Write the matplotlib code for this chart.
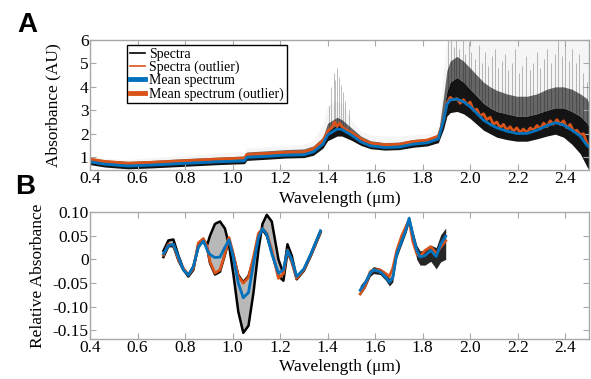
import numpy as np
import matplotlib
matplotlib.use("Agg")
import matplotlib.pyplot as plt
from matplotlib.lines import Line2D

BLUE = "#0072BD"
ORANGE = "#D95319"
FRAME = "#a8a8a8"

# ---- panel A: absorbance spectra ----
wl_a = [0.40, 0.46, 0.56, 0.66, 0.80, 0.94, 1.05, 1.06, 1.16, 1.22,
        1.30, 1.34, 1.38, 1.40, 1.44, 1.46, 1.50, 1.54, 1.58, 1.64,
        1.70, 1.76, 1.82, 1.866, 1.888, 1.902, 1.916, 1.944, 1.972, 2.0,
        2.028, 2.056, 2.084, 2.112, 2.154, 2.196, 2.239, 2.281, 2.323, 2.358,
        2.393, 2.428, 2.463, 2.491, 2.5]
mean_a = [0.80, 0.70, 0.62, 0.66, 0.73, 0.80, 0.84, 0.99, 1.04, 1.08,
          1.10, 1.22, 1.55, 1.95, 2.20, 2.18, 1.94, 1.65, 1.48, 1.41,
          1.43, 1.55, 1.61, 1.78, 2.58, 3.25, 3.44, 3.48, 3.36, 3.15,
          2.87, 2.58, 2.40, 2.25, 2.11, 2.01, 2.01, 2.15, 2.34, 2.47,
          2.37, 2.15, 1.90, 1.51, 1.44]
# spread of the individual spectra (bottom, dense top, medium top, faint top)
lo_a = [0.68, 0.58, 0.50, 0.54, 0.61, 0.68, 0.72, 0.86, 0.92, 0.96,
        0.98, 1.08, 1.38, 1.70, 1.90, 1.90, 1.72, 1.50, 1.36, 1.30,
        1.32, 1.42, 1.48, 1.62, 2.20, 2.75, 2.90, 2.95, 2.85, 2.65,
        2.40, 2.15, 2.00, 1.85, 1.75, 1.68, 1.68, 1.78, 1.90, 1.98,
        1.85, 1.55, 1.15, 0.60, 0.45]
hi1_a = [0.86, 0.76, 0.68, 0.72, 0.79, 0.86, 0.90, 1.05, 1.10, 1.14,
         1.16, 1.30, 1.62, 2.10, 2.40, 2.35, 2.05, 1.75, 1.56, 1.48,
         1.50, 1.62, 1.68, 1.86, 3.00, 3.80, 4.20, 4.40, 4.20, 3.90,
         3.60, 3.30, 3.10, 2.95, 2.85, 2.75, 2.75, 2.85, 3.00, 3.10,
         3.10, 2.95, 2.75, 2.45, 2.30]
hi2_a = [0.98, 0.88, 0.82, 0.86, 0.94, 1.00, 1.05, 1.22, 1.28, 1.32,
         1.35, 1.48, 1.85, 2.45, 2.70, 2.60, 2.25, 1.90, 1.70, 1.62,
         1.64, 1.75, 1.80, 1.98, 3.60, 4.70, 5.10, 5.30, 5.10, 4.80,
         4.50, 4.20, 4.00, 3.85, 3.70, 3.60, 3.60, 3.70, 3.90, 4.00,
         4.00, 3.90, 3.70, 3.50, 3.30]
top_a = [1.05, 0.95, 0.90, 0.98, 1.08, 1.18, 1.25, 1.40, 1.45, 1.50,
         1.55, 1.70, 2.40, 3.20, 3.40, 3.30, 2.60, 2.10, 1.95, 1.90,
         1.90, 1.95, 2.00, 2.15, 4.80, 6.00, 6.00, 6.00, 6.00, 6.00,
         6.00, 6.00, 6.00, 6.00, 6.00, 6.00, 6.00, 6.00, 6.00, 6.00,
         6.00, 6.00, 6.00, 6.00, 6.00]

wl_oa = [0.40, 0.46, 0.56, 0.66, 0.80, 0.94, 1.05, 1.06, 1.16, 1.22,
         1.30, 1.34, 1.38, 1.40, 1.42, 1.43, 1.44, 1.45, 1.46, 1.48,
         1.50, 1.54, 1.58, 1.64, 1.70, 1.76, 1.82, 1.866, 1.888, 1.902,
         1.916, 1.93, 1.944, 1.958, 1.972, 1.986, 2.0, 2.014, 2.028, 2.042,
         2.056, 2.07, 2.084, 2.098, 2.112, 2.126, 2.14, 2.154, 2.168, 2.182,
         2.196, 2.21, 2.224, 2.239, 2.253, 2.267, 2.281, 2.295, 2.309, 2.323,
         2.337, 2.35, 2.365, 2.379, 2.393, 2.407, 2.421, 2.435, 2.449, 2.463,
         2.477, 2.491, 2.5]
mean_out_a = [0.92, 0.82, 0.74, 0.78, 0.85, 0.92, 0.96, 1.12, 1.17, 1.21,
              1.23, 1.36, 1.70, 2.10, 2.30, 2.50, 2.30, 2.45, 2.30, 2.15,
              2.05, 1.78, 1.60, 1.53, 1.55, 1.67, 1.73, 1.90, 2.60, 3.30,
              3.55, 3.45, 3.50, 3.30, 3.45, 3.25, 3.35, 3.00, 3.05, 2.75,
              2.85, 2.60, 2.70, 2.40, 2.50, 2.25, 2.40, 2.15, 2.30, 2.10,
              2.25, 2.05, 2.20, 2.05, 2.25, 2.15, 2.35, 2.20, 2.45, 2.30,
              2.55, 2.40, 2.60, 2.40, 2.55, 2.25, 2.40, 2.10, 2.15, 1.95,
              2.00, 1.60, 1.50]

# faint noisy spikes of single spectra
spike_wl = [1.405, 1.415, 1.425, 1.432, 1.44, 1.447, 1.455, 1.465, 1.475, 1.49,
            1.905, 1.918, 1.93, 1.942, 1.955, 1.968, 1.98, 1.993, 2.005, 2.02,
            2.035, 2.048, 2.062, 2.075, 2.09, 2.104, 2.118, 2.132, 2.147, 2.16,
            2.175, 2.19, 2.205, 2.22, 2.235, 2.25, 2.265, 2.28, 2.295, 2.31,
            2.325, 2.34, 2.355, 2.37, 2.385, 2.4, 2.415, 2.43, 2.445, 2.46,
            2.475, 2.49]
spike_base = [2.2, 2.3, 2.4, 2.4, 2.4, 2.4, 2.3, 2.2, 2.1, 2.0,
              3.8, 4.1, 4.3, 4.4, 4.3, 4.2, 4.1, 4.0, 3.9, 3.7,
              3.6, 3.4, 3.3, 3.2, 3.1, 3.0, 2.95, 2.9, 2.85, 2.85,
              2.8, 2.75, 2.75, 2.75, 2.75, 2.75, 2.75, 2.8, 2.85, 2.9,
              3.0, 3.05, 3.1, 3.1, 3.1, 3.1, 3.0, 2.95, 2.9, 2.8,
              2.6, 2.4]
spike_top = [3.2, 4.0, 4.6, 4.3, 4.8, 4.4, 4.1, 3.8, 3.4, 3.0,
             6.0, 6.0, 5.7, 6.0, 5.6, 6.0, 5.4, 5.9, 5.5, 5.2,
             5.8, 5.0, 5.5, 4.9, 5.3, 5.6, 4.8, 5.1, 5.4, 4.7,
             5.0, 5.6, 4.6, 4.9, 5.3, 4.7, 5.0, 5.5, 4.8, 5.2,
             5.6, 5.0, 5.4, 6.0, 5.3, 5.8, 5.1, 5.6, 5.0, 5.4,
             4.6, 4.2]

# ---- panel B: relative absorbance, two wavelength windows ----
wl_b1 = [0.709, 0.730, 0.751, 0.772, 0.793, 0.814, 0.835, 0.856, 0.877, 0.894,
         0.905, 0.926, 0.947, 0.968, 0.985, 1.003, 1.024, 1.045, 1.067, 1.088,
         1.109, 1.126, 1.144, 1.165, 1.193, 1.214, 1.231, 1.249, 1.270, 1.300,
         1.330, 1.370]
mean_b1 = [0.012, 0.029, 0.032, 0.005, -0.022, -0.033, -0.015, 0.026, 0.039, 0.019,
           0.010, 0.004, 0.005, 0.026, 0.041, 0.005, -0.050, -0.081, -0.070, -0.009,
           0.046, 0.065, 0.053, 0.012, -0.029, -0.022, 0.019, 0.000, -0.036, -0.020,
           0.012, 0.060]
mean_out_b1 = [0.009, 0.032, 0.031, 0.000, -0.019, -0.033, -0.019, 0.035, 0.044, 0.026,
               -0.005, -0.029, -0.022, 0.012, 0.046, 0.012, -0.036, -0.050, -0.038, 0.005,
               0.055, 0.065, 0.055, 0.020, -0.040, -0.030, 0.020, -0.005, -0.040, -0.022,
               0.010, 0.058]
near_b1 = [0.005, 0.028, 0.028, -0.002, -0.022, -0.036, -0.022, 0.033, 0.040, 0.022,
           -0.008, -0.032, -0.026, 0.010, 0.042, 0.010, -0.033, -0.048, -0.035, 0.000,
           0.050, 0.063, 0.050, 0.015, -0.035, -0.045, 0.015, -0.005, -0.042, -0.024,
           0.008, 0.056]
far_b1 = [0.018, 0.040, 0.042, 0.008, -0.020, -0.033, -0.015, 0.026, 0.040, 0.032,
          0.050, 0.075, 0.080, 0.065, 0.030, -0.030, -0.110, -0.155, -0.140, -0.070,
          0.020, 0.075, 0.094, 0.080, 0.000, -0.030, 0.032, 0.008, -0.040, -0.022,
          0.012, 0.060]

wl_b2 = [1.537, 1.558, 1.579, 1.593, 1.621, 1.642, 1.660, 1.674, 1.691, 1.712,
         1.730, 1.743, 1.758, 1.775, 1.789, 1.810, 1.834, 1.857, 1.876, 1.897]
mean_b2 = [-0.065, -0.050, -0.029, -0.022, -0.026, -0.036, -0.048, -0.039, 0.012, 0.039,
           0.063, 0.087, 0.053, 0.019, 0.005, 0.008, 0.019, 0.006, 0.032, 0.049]
mean_out_b2 = [-0.073, -0.056, -0.026, -0.022, -0.022, -0.029, -0.036, -0.019, 0.019, 0.050,
               0.070, 0.083, 0.039, 0.012, 0.006, 0.019, 0.027, 0.012, 0.026, 0.039]
lo_b2 = [-0.075, -0.060, -0.036, -0.030, -0.032, -0.043, -0.056, -0.048, 0.004, 0.032,
         0.056, 0.078, 0.040, 0.000, -0.012, -0.012, -0.004, -0.020, -0.005, 0.000]
hi_b2 = [-0.055, -0.042, -0.022, -0.015, -0.019, -0.028, -0.040, -0.030, 0.020, 0.046,
         0.070, 0.092, 0.062, 0.030, 0.018, 0.020, 0.030, 0.025, 0.052, 0.066]

xticks = [0.4, 0.6, 0.8, 1.0, 1.2, 1.4, 1.6, 1.8, 2.0, 2.2, 2.4]
xtick_labels = ["0.4", "0.6", "0.8", "1.0", "1.2", "1.4", "1.6", "1.8", "2.0", "2.2", "2.4"]
yticks_a = [1, 2, 3, 4, 5, 6]
yticks_b = [-0.15, -0.10, -0.05, 0, 0.05, 0.10]
ytick_labels_b = ["-0.15", "-0.10", "-0.05", "0", "0.05", "0.10"]

plt.rcParams["font.family"] = ["Liberation Serif", "DejaVu Serif"]
plt.rcParams["font.size"] = 12

fig = plt.figure(figsize=(5.91, 3.79), dpi=100)
ax_a = fig.add_axes([0.1523, 0.5514, 0.8443, 0.3431])
ax_b = fig.add_axes([0.1523, 0.1055, 0.8443, 0.3351])


def style(ax, xlab_y):
    for s in ax.spines.values():
        s.set_color(FRAME)
        s.set_linewidth(1.0)
    ax.tick_params(direction="in", length=4, width=0.8, color=FRAME,
                   top=True, right=True, pad=1, labelsize=12.5)
    ax.set_xlim(0.4, 2.5)
    ax.set_xticks(xticks)
    ax.set_xticklabels(xtick_labels)
    ax.set_xlabel("Wavelength (\u03bcm)", fontsize=12.5)
    ax.xaxis.set_label_coords(0.5, xlab_y)


# panel A
ax_a.fill_between(wl_a, hi2_a, top_a, color="black", alpha=0.04, lw=0)
ax_a.vlines(spike_wl, spike_base, spike_top, color="black", lw=0.6, alpha=0.3)
ax_a.fill_between(wl_a, hi1_a, hi2_a, color="black", alpha=0.6, lw=0)
ax_a.fill_between(wl_a, lo_a, hi1_a, color="black", alpha=0.92, lw=0)
ax_a.plot(wl_oa, mean_out_a, color=ORANGE, lw=2)
ax_a.plot(wl_a, mean_a, color=BLUE, lw=2)
style(ax_a, -0.16)
ax_a.set_ylim(0.45, 6)
ax_a.set_yticks(yticks_a)
ax_a.set_ylabel("Absorbance (AU)", fontsize=12.5)
ax_a.yaxis.set_label_coords(-0.058, 0.5)

handles = [Line2D([], [], color="black", lw=1.2),
           Line2D([], [], color=ORANGE, lw=1.2),
           Line2D([], [], color=BLUE, lw=3.5),
           Line2D([], [], color=ORANGE, lw=3.5)]
labels = ["Spectra", "Spectra (outlier)", "Mean spectrum", "Mean spectrum (outlier)"]
leg = ax_a.legend(handles, labels, loc="upper left", bbox_to_anchor=(0.074, 0.962),
                  borderaxespad=0, fontsize=10, fancybox=False, framealpha=1,
                  handlelength=1.1, handletextpad=0.3, labelspacing=0.0,
                  borderpad=0.2, edgecolor="black")
leg.get_frame().set_linewidth(1.0)

# panel B
ax_b.fill_between(wl_b1, near_b1, far_b1, color="0.45", alpha=0.5, lw=0)
ax_b.plot(wl_b1, far_b1, color="black", lw=1.8)
ax_b.plot(wl_b1, near_b1, color="black", lw=1.8)
ax_b.fill_between(wl_b2, lo_b2, hi_b2, color="black", alpha=0.85, lw=0)
ax_b.plot(wl_b1, mean_out_b1, color=ORANGE, lw=2)
ax_b.plot(wl_b2, mean_out_b2, color=ORANGE, lw=2)
ax_b.plot(wl_b1, mean_b1, color=BLUE, lw=2)
ax_b.plot(wl_b2, mean_b2, color=BLUE, lw=2)
style(ax_b, -0.16)
ax_b.set_ylim(-0.168, 0.10)
ax_b.set_yticks(yticks_b)
ax_b.set_yticklabels(ytick_labels_b)
ax_b.set_ylabel("Relative Absorbance", fontsize=12.5)
ax_b.yaxis.set_label_coords(-0.088, 0.5)

fig.text(0.046, 0.935, "A", fontsize=20, fontweight="bold",
         family=["Liberation Sans", "DejaVu Sans"], ha="center", va="center")
fig.text(0.042, 0.507, "B", fontsize=20, fontweight="bold",
         family=["Liberation Sans", "DejaVu Sans"], ha="center", va="center")

fig.savefig("out.png", dpi=100)
